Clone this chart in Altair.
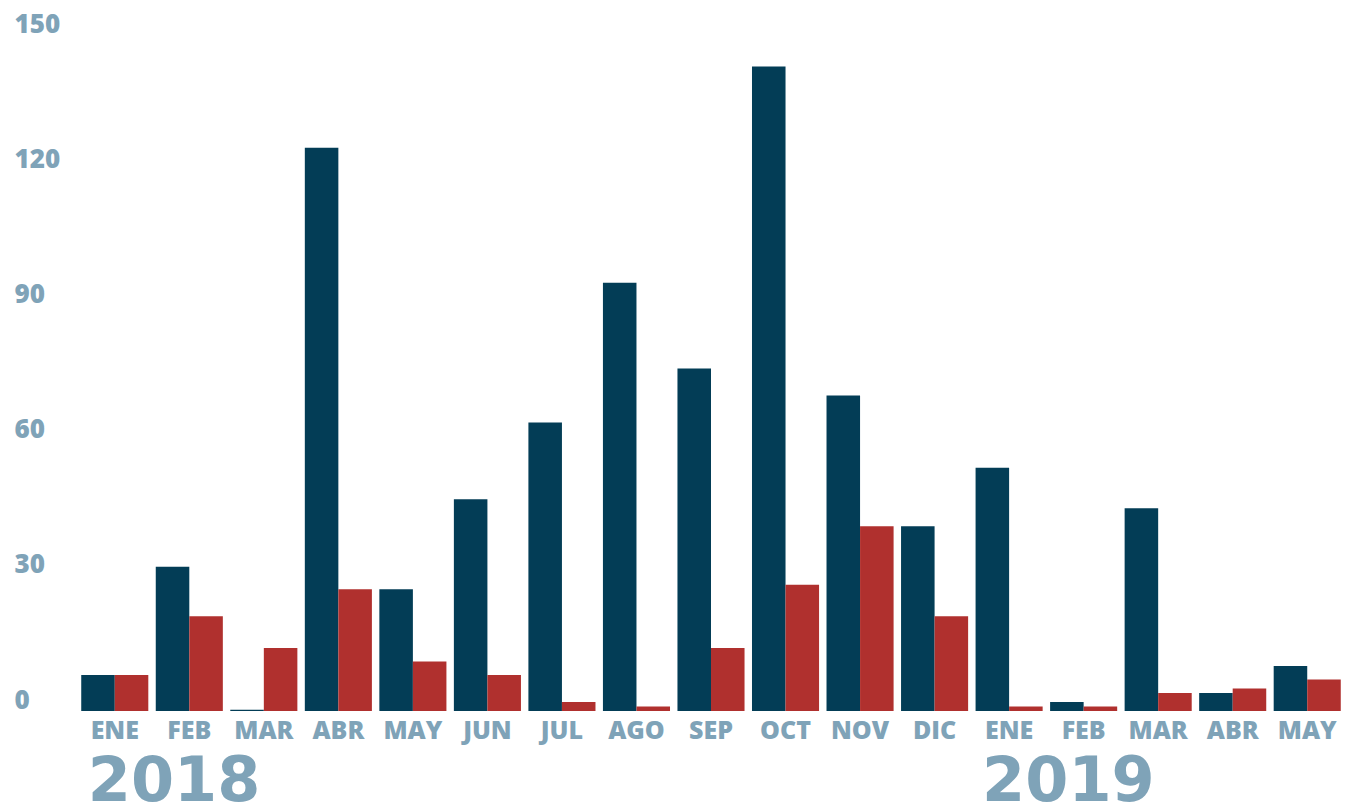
import altair as alt
import pandas as pd

months = ["ENE", "FEB", "MAR", "ABR", "MAY", "JUN", "JUL", "AGO", "SEP", "OCT", "NOV", "DIC",
          "ENE", "FEB", "MAR", "ABR", "MAY"]
years = ["2018"] * 12 + ["2019"] * 5
serie_a = [8, 32, 0.3, 125, 27, 47, 64, 95, 76, 143, 70, 41, 54, 2, 45, 4, 10]
serie_b = [8, 21, 14, 27, 11, 8, 2, 1, 14, 28, 41, 21, 1, 1, 4, 5, 7]
y_ticks = [0, 30, 60, 90, 120, 150]
year_labels = ["2018", "2019"]
year_starts = ["2018-ENE", "2019-ENE"]

keys = [f"{y}-{m}" for y, m in zip(years, months)]
rows = []
for k, a, b in zip(keys, serie_a, serie_b):
    rows.append({"key": k, "serie": "A", "value": a})
    rows.append({"key": k, "serie": "B", "value": b})
df = pd.DataFrame(rows)
ydf = pd.DataFrame({"key": year_starts, "label": year_labels})

LABEL = "#7fa3b8"
FONT = "Open Sans"

xscale = alt.Scale(domain=keys, paddingInner=0.1, paddingOuter=0.03)

bars = alt.Chart(df).mark_bar().encode(
    x=alt.X("key:N", scale=xscale, sort=keys, title=None,
            axis=alt.Axis(labelExpr="split(datum.label, '-')[1]", domain=False, ticks=False,
                          tickSize=0, labelAngle=0, labelFont=FONT, labelFontSize=25,
                          labelFontWeight=800, labelColor=LABEL, labelBaseline="alphabetic",
                          labelPadding=27)),
    xOffset=alt.XOffset("serie:N", scale=alt.Scale(paddingInner=0, paddingOuter=0)),
    y=alt.Y("value:Q", scale=alt.Scale(domain=[0, 150], nice=False), title=None,
            axis=alt.Axis(values=y_ticks, grid=False, domain=False, ticks=False, tickSize=0,
                          labelAlign="left", labelPadding=65, labelFont=FONT, labelFontSize=26,
                          labelFontWeight=800, labelColor=LABEL, labelBaseline="alphabetic",
                          labelOffset=-3)),
    color=alt.Color("serie:N", scale=alt.Scale(domain=["A", "B"], range=["#033d56", "#b0302e"]),
                    legend=None),
)

year_text = alt.Chart(ydf).mark_text(
    align="left", baseline="alphabetic", dx=-27, font="DejaVu Sans", fontSize=62,
    fontWeight="bold", color=LABEL,
).encode(
    x=alt.X("key:N", scale=xscale, sort=keys),
    y=alt.value(766),
    text="label:N",
)

chart = alt.layer(bars, year_text).properties(
    width=1264, height=676,
    autosize=alt.AutoSizeParams(type="none"),
    padding={"left": 71, "top": 27, "right": 0, "bottom": 92},
).configure_view(stroke=None)

chart.save("out.html", embed_options={"renderer": "svg", "actions": False})
